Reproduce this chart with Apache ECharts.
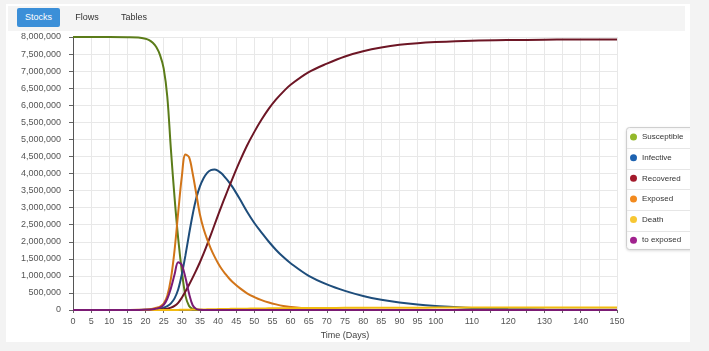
<!DOCTYPE html>
<html>
<head>
<meta charset="utf-8">
<script src="https://cdn.jsdelivr.net/npm/echarts@6/dist/echarts.min.js"></script>
<style>
  html, body { margin: 0; padding: 0; width: 709px; height: 351px; background: #f3f3f3; overflow: hidden; font-family: 'Liberation Sans', Arial, sans-serif; }
  #panel { position: absolute; left: 6px; top: 4px; width: 684px; height: 338px; background: #fff; }
  #tabs { position: absolute; left: 8px; top: 6px; width: 677px; height: 25px; background: #f4f4f4; }
  .tab { position: absolute; top: 8px; height: 19px; line-height: 19px; font-size: 9px; color: #333; text-align: center; }
  .tab.active { background: #3b8fd8; color: #fff; border-radius: 2px; }
  #chart { position: absolute; left: 0; top: 0; width: 690px; height: 351px; }
</style>
</head>
<body>
<div id="panel"></div>
<div id="tabs"></div>
<div id="chart"></div>
<div class="tab active" style="left:17px;width:43px;">Stocks</div>
<div class="tab" style="left:72px;width:30px;">Flows</div>
<div class="tab" style="left:118px;width:32px;">Tables</div>
<script>
// time (days) and stock values
const days = [0, 5, 10, 15, 18,
  20, 21, 22, 23, 24, 25, 26, 27, 28, 29,
  30, 31, 32, 33, 34, 35, 36, 37, 38, 39,
  40, 41, 42, 43, 44,
  46, 48, 50, 52, 54, 56, 58, 60,
  65, 70, 75, 80, 85, 90, 95, 100,
  110, 120, 130, 140, 150];

const susceptible = [8000000, 8000000, 8000000, 7995000, 7985000,
  7950000, 7910000, 7830000, 7700000, 7470000, 7080000, 6250000, 4700000, 3300000, 2100000,
  1150000, 420000, 120000, 30000, 8000, 2000, 0, 0, 0, 0,
  0, 0, 0, 0, 0,
  0, 0, 0, 0, 0, 0, 0, 0,
  0, 0, 0, 0, 0, 0, 0, 0,
  0, 0, 0, 0, 0];

const infective = [0, 0, 0, 1000, 3000,
  8000, 13000, 20000, 30000, 45000, 70000, 115000, 195000, 340000, 600000,
  1040000, 1600000, 2220000, 2800000, 3280000, 3620000, 3860000, 4020000, 4100000, 4120000,
  4080000, 4000000, 3880000, 3750000, 3600000,
  3250000, 2880000, 2550000, 2270000, 2000000, 1760000, 1550000, 1370000,
  1000000, 750000, 560000, 410000, 300000, 220000, 160000, 120000,
  60000, 30000, 15000, 8000, 4000];

const recovered = [0, 0, 0, 0, 1000,
  2000, 3000, 5000, 9000, 15000, 25000, 40000, 70000, 120000, 210000,
  360000, 540000, 740000, 950000, 1170000, 1400000, 1650000, 1920000, 2200000, 2490000,
  2780000, 3060000, 3330000, 3600000, 3860000,
  4360000, 4820000, 5220000, 5580000, 5900000, 6170000, 6400000, 6600000,
  6970000, 7220000, 7430000, 7580000, 7690000, 7770000, 7820000, 7850000,
  7890000, 7910000, 7920000, 7930000, 7930000];

const exposed = [0, 0, 0, 2000, 5000,
  15000, 25000, 40000, 65000, 100000, 190000, 420000, 920000, 1750000, 2850000,
  3900000, 4560000, 4480000, 4000000, 3400000, 2800000, 2380000, 2070000, 1800000, 1570000,
  1370000, 1200000, 1060000, 930000, 820000,
  640000, 490000, 380000, 290000, 220000, 165000, 120000, 90000,
  40000, 18000, 8000, 4000, 2000, 1000, 0, 0,
  0, 0, 0, 0, 0];

const death = [0, 0, 0, 0, 0,
  0, 0, 0, 0, 0, 0, 1000, 1000, 2000, 3000,
  5000, 7000, 9000, 11000, 13000, 15000, 17000, 19000, 21000, 23000,
  26000, 28000, 30000, 32000, 34000,
  37000, 40000, 43000, 46000, 48000, 50000, 52000, 54000,
  58000, 61000, 63000, 65000, 67000, 68000, 69000, 70000,
  71000, 72000, 72000, 72000, 72000];

const toExposed = [0, 0, 0, 0, 2000,
  5000, 10000, 20000, 40000, 70000, 150000, 330000, 640000, 1040000, 1400000,
  1320000, 950000, 480000, 140000, 30000, 5000, 0, 0, 0, 0,
  0, 0, 0, 0, 0,
  0, 0, 0, 0, 0, 0, 0, 0,
  0, 0, 0, 0, 0, 0, 0, 0,
  0, 0, 0, 0, 0];

const SERIES = [
  { name: 'Susceptible', values: susceptible, line: '#5b7c19', dot: '#93b82a' },
  { name: 'Infective', values: infective, line: '#1e4d7b', dot: '#1d62b0' },
  { name: 'Recovered', values: recovered, line: '#6d1625', dot: '#a31a2c' },
  { name: 'Exposed', values: exposed, line: '#d27519', dot: '#f28a1e' },
  { name: 'Death', values: death, line: '#f3bb10', dot: '#f7c733' },
  { name: 'to exposed', values: toExposed, line: '#7b1b74', dot: '#a1228e' },
];

const FONT = "'Liberation Sans', Arial, sans-serif";
const chart = echarts.init(document.getElementById('chart'), null, { renderer: 'canvas' });

// legend box with separators
const boxTop = 127, boxLeft = 626, pitch = 20.65;
const legendGraphics = [{
  type: 'rect', left: boxLeft, top: boxTop, z: 0,
  shape: { width: 70, height: 122, r: 3 },
  style: { fill: '#fff', stroke: '#cfcfcf', lineWidth: 1, shadowBlur: 3, shadowColor: 'rgba(0,0,0,0.12)', shadowOffsetY: 1 },
}];
for (let i = 1; i < SERIES.length; i++) {
  const y = Math.round(boxTop + 0.5 + i * pitch) + 0.5;
  legendGraphics.push({
    type: 'line', z: 1,
    shape: { x1: boxLeft + 1, y1: y, x2: boxLeft + 70, y2: y },
    style: { stroke: '#e6e6e6', lineWidth: 1 },
  });
}

chart.setOption({
  backgroundColor: 'transparent',
  animation: false,
  grid: { left: 73, right: 73, top: 37, bottom: 41 },
  graphic: legendGraphics,
  legend: {
    orient: 'vertical',
    left: 630,
    top: 133,
    padding: 0,
    icon: 'circle',
    itemWidth: 7,
    itemHeight: 7,
    itemGap: 12.65,
    z: 5,
    textStyle: { fontFamily: FONT, fontSize: 8, color: '#333', lineHeight: 8 },
    data: SERIES.map((s) => s.name),
  },
  xAxis: {
    type: 'value',
    min: 0,
    max: 150,
    interval: 5,
    name: 'Time (Days)',
    nameLocation: 'middle',
    nameGap: 19,
    nameTextStyle: { fontFamily: FONT, fontSize: 9, color: '#444' },
    axisLine: { show: true, lineStyle: { color: '#555', width: 1 } },
    axisTick: { show: true, length: 3, lineStyle: { color: '#666' } },
    axisLabel: {
      fontFamily: FONT, fontSize: 9, color: '#555', margin: 7,
      formatter: (v) => (v > 100 && v % 10 !== 0 ? '' : String(v)),
    },
    splitLine: { show: true, lineStyle: { color: '#e8e8e8' } },
  },
  yAxis: {
    type: 'value',
    min: 0,
    max: 8000000,
    interval: 500000,
    axisLine: { show: true, lineStyle: { color: '#555', width: 1 } },
    axisTick: { show: true, length: 4, lineStyle: { color: '#666' } },
    axisLabel: {
      fontFamily: FONT, fontSize: 9, color: '#555', margin: 12,
      formatter: (v) => v.toLocaleString('en-US'),
    },
    splitLine: { show: true, lineStyle: { color: '#e8e8e8' } },
  },
  series: SERIES.map((s) => ({
    name: s.name,
    type: 'line',
    data: days.map((d, i) => [d, s.values[i]]),
    smooth: 0.35,
    showSymbol: false,
    symbol: 'circle',
    itemStyle: { color: s.dot },
    lineStyle: { color: s.line, width: 2 },
  })),
});
</script>
</body>
</html>
